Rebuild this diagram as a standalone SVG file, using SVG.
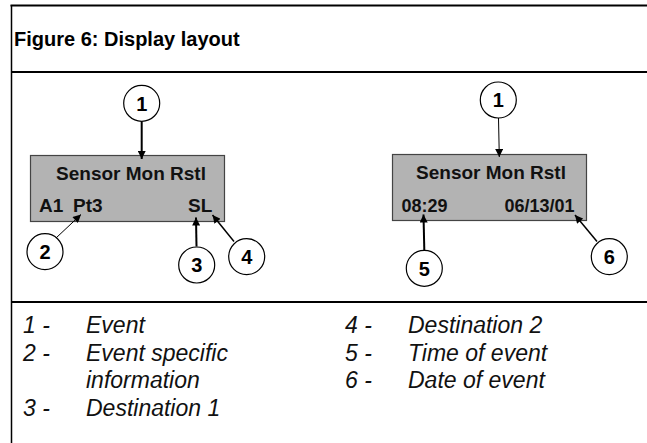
<svg xmlns="http://www.w3.org/2000/svg" width="647" height="443" viewBox="0 0 647 443">
<defs>
<style>
.frame{stroke:#000;fill:none}
.box{fill:#b3b3b3;stroke:#444;stroke-width:1.2}
.disp{font-family:"Liberation Sans",Arial,sans-serif;font-weight:bold;font-size:19px;fill:#111}
.dig{font-family:"Liberation Sans",Arial,sans-serif;font-weight:bold;font-size:18px;fill:#111}
.circ{fill:#fff;stroke:#000;stroke-width:1.2}
.num{font-family:"Liberation Sans",Arial,sans-serif;font-weight:bold;font-size:20px;text-anchor:middle;fill:#000}
.leg{font-family:"Liberation Sans",Arial,sans-serif;font-style:italic;font-size:23px;fill:#111}
.title{font-family:"Liberation Sans",Arial,sans-serif;font-weight:bold;font-size:20px;fill:#000}
.c{stroke:#000;fill:none}
</style>
<marker id="ah" viewBox="0 0 10 10" refX="10" refY="5" markerWidth="9" markerHeight="8" markerUnits="userSpaceOnUse" orient="auto">
<path d="M0,0 L10,5 L0,10 z" fill="#000"/>
</marker>
</defs>
<rect width="647" height="443" fill="#fff"/>
<g id="frame">
<line class="frame" x1="10.5" y1="5.5" x2="647" y2="5.5" stroke-width="2"/>
<line class="frame" x1="11.5" y1="5" x2="11.5" y2="443" stroke-width="1.5"/>
<line class="frame" x1="11" y1="72" x2="647" y2="72" stroke-width="2"/>
<line class="frame" x1="11" y1="302" x2="647" y2="302" stroke-width="2"/>
</g>
<text class="title" x="14" y="46">Figure 6:  Display layout</text>
<g id="display1">
<rect class="box" x="30.5" y="155.5" width="194" height="66"/>
<text class="disp" x="131" y="180" text-anchor="middle">Sensor Mon Rstl</text>
<text class="disp" x="39" y="212">A1</text>
<text class="disp" x="73" y="212">Pt3</text>
<text class="disp" x="188" y="212">SL</text>
</g>
<g id="display2">
<rect class="box" x="392.5" y="154.5" width="194" height="66"/>
<text class="disp" x="491" y="179" text-anchor="middle">Sensor Mon Rstl</text>
<text class="dig" x="401.5" y="212">08:29</text>
<text class="dig" x="574.5" y="212" text-anchor="end">06/13/01</text>
</g>
<g id="connectors">
<line class="c" x1="141.7" y1="121.5" x2="141.7" y2="159" stroke-width="2" marker-end="url(#ah)"/>
<line class="c" x1="56" y1="238" x2="81" y2="214.5" stroke-width="1" marker-end="url(#ah)"/>
<line class="c" x1="196.5" y1="246.5" x2="196" y2="217.5" stroke-width="2" marker-end="url(#ah)"/>
<line class="c" x1="234" y1="241.5" x2="212.5" y2="215" stroke-width="1.5" marker-end="url(#ah)"/>
<line class="c" x1="498.5" y1="118" x2="499.3" y2="157" stroke-width="1" marker-end="url(#ah)"/>
<line class="c" x1="424.3" y1="250" x2="423.5" y2="214.5" stroke-width="2" marker-end="url(#ah)"/>
<line class="c" x1="597" y1="241.5" x2="575" y2="215" stroke-width="1.5" marker-end="url(#ah)"/>
</g>
<g id="callout1a"><circle class="circ" cx="141.7" cy="103.3" r="18"/><text class="num" x="141.7" y="110.5">1</text></g>
<g id="callout2"><circle class="circ" cx="45" cy="251.7" r="18"/><text class="num" x="45" y="258.9">2</text></g>
<g id="callout3"><circle class="circ" cx="196.7" cy="265" r="18"/><text class="num" x="196.7" y="272.2">3</text></g>
<g id="callout4"><circle class="circ" cx="246.7" cy="256.7" r="18"/><text class="num" x="246.7" y="263.9">4</text></g>
<g id="callout1b"><circle class="circ" cx="498.3" cy="100" r="18"/><text class="num" x="498.3" y="107.2">1</text></g>
<g id="callout5"><circle class="circ" cx="424.3" cy="268.3" r="18"/><text class="num" x="424.3" y="275.5">5</text></g>
<g id="callout6"><circle class="circ" cx="609.3" cy="256.7" r="18"/><text class="num" x="609.3" y="263.9">6</text></g>
<g id="legend">
<text class="leg" x="23" y="333">1 -</text><text class="leg" x="86" y="333">Event</text>
<text class="leg" x="23" y="361">2 -</text><text class="leg" x="86" y="361">Event specific</text>
<text class="leg" x="86" y="388">information</text>
<text class="leg" x="23" y="416">3 -</text><text class="leg" x="86" y="416">Destination 1</text>
<text class="leg" x="345" y="333">4 -</text><text class="leg" x="408" y="333">Destination 2</text>
<text class="leg" x="345" y="361">5 -</text><text class="leg" x="408" y="361">Time of event</text>
<text class="leg" x="345" y="388">6 -</text><text class="leg" x="408" y="388">Date of event</text>
</g>
</svg>
